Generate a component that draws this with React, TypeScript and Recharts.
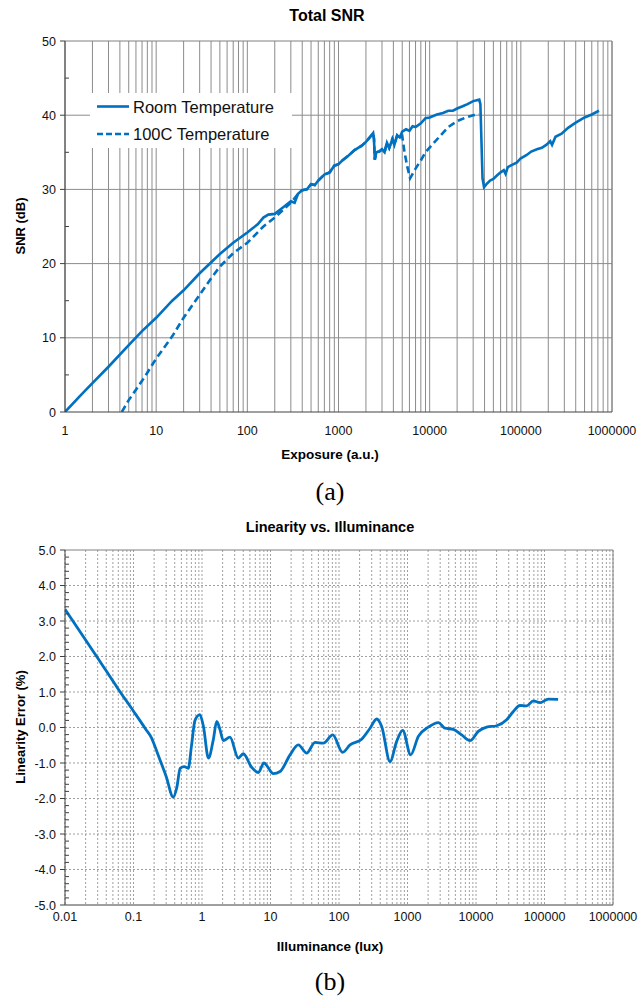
import React from "react"
import { LineChart, Line, XAxis, YAxis, CartesianGrid, ReferenceLine } from "recharts"

const BLUE = "#0070C0"
const SANS = "'Liberation Sans', Arial, sans-serif"
const SERIF = "'Liberation Serif', 'Times New Roman', serif"

// (a) Total SNR, room temperature
const roomExposure = [
  1, 1.5, 2, 3, 5, 7, 10, 15, 20, 30, 50, 70, 100, 130, 150, 170, 200, 230, 260, 300, 330, 360, 400, 450,
  500, 550, 600, 700, 800, 900, 1000, 1100, 1300, 1500, 1800, 2000, 2200, 2400, 2450, 2500, 2600, 2800,
  3000, 3200, 3400, 3600, 3900, 4100, 4400, 4700, 5000, 5500, 6000, 6500, 7000, 8000, 9000, 10000, 12000,
  14000, 16000, 18000, 20000, 23000, 26000, 30000, 35000, 36000, 38000, 39500, 42000, 46000, 50000, 55000,
  60000, 65000, 68000, 72000, 80000, 90000, 100000, 115000, 130000, 150000, 170000, 190000, 210000, 220000,
  240000, 280000, 330000, 400000, 500000, 600000, 720000,
]
const roomSnr = [
  0, 2.3, 3.9, 6.1, 9.0, 10.9, 12.7, 15.0, 16.4, 18.7, 21.3, 22.8, 24.2, 25.3, 26.2, 26.6, 26.7, 27.3, 27.8,
  28.4, 28.2, 29.4, 29.9, 30.0, 30.7, 30.6, 31.2, 32.0, 32.3, 33.2, 33.4, 33.9, 34.6, 35.3, 35.9, 36.4, 37.0,
  37.6, 36.8, 34.0, 35.0, 35.1, 35.4, 35.0, 36.3, 35.6, 36.8, 36.0, 37.3, 37.0, 37.8, 38.1, 37.9, 38.5, 38.4,
  38.9, 39.6, 39.7, 40.1, 40.3, 40.6, 40.6, 40.9, 41.2, 41.5, 41.9, 42.1, 41.5, 31.5, 30.3, 30.7, 31.2, 31.4,
  31.9, 32.3, 32.6, 32.1, 33.0, 33.3, 33.6, 34.2, 34.6, 35.1, 35.4, 35.6, 36.0, 36.5, 36.0, 37.1, 37.5, 38.3,
  39.0, 39.7, 40.1, 40.6,
]

// (a) Total SNR, 100C
const hotExposure = [
  4.2, 5, 6, 7, 8, 10, 15, 20, 30, 40, 50, 70, 100, 150, 200, 250, 300, 360, 400, 450, 500, 550, 600, 700,
  800, 900, 1000, 1100, 1300, 1500, 1800, 2000, 2200, 2400, 2450, 2500, 2600, 2800, 3000, 3200, 3400, 3600,
  3900, 4100, 4400, 4700, 5000, 5300, 5700, 6100, 7000, 8000, 9000, 11000, 13000, 16000, 20000, 25000,
  30000, 35000,
]
const hotSnr = [
  0, 1.6, 3.0, 4.2, 5.3, 7.2, 10.2, 12.7, 15.8, 18.0, 19.6, 21.4, 22.8, 25.0, 26.2, 27.3, 28.2, 29.4, 29.9,
  30.0, 30.7, 30.6, 31.2, 32.0, 32.3, 33.2, 33.4, 33.9, 34.6, 35.3, 35.9, 36.4, 37.0, 37.6, 36.8, 34.0, 35.0,
  35.1, 35.4, 35.0, 36.3, 35.6, 36.8, 36.0, 37.3, 37.0, 37.2, 35.0, 33.0, 31.5, 32.8, 33.9, 35.0, 36.2, 37.2,
  38.4, 39.2, 39.7, 40.0, 40.1,
]

const snrDecades = [1, 10, 100, 1000, 10000, 100000, 1000000]
const snrMajor = [0, 10, 20, 30, 40, 50]

// (b) Linearity vs. Illuminance
const luxValues = [
  0.01, 0.03, 0.06, 0.1, 0.15, 0.184, 0.2, 0.24, 0.3, 0.38, 0.43, 0.48, 0.55, 0.63, 0.7, 0.79, 0.93, 1.05,
  1.24, 1.46, 1.64, 1.83, 2.05, 2.56, 3.39, 4.0, 5.3, 6.64, 8.0, 11.0, 13.8, 19.3, 25.5, 33.7, 44.7, 59, 81,
  113, 145, 214, 284, 355, 420, 556, 695, 851, 1113, 1439, 2014, 2820, 3524, 4667, 6180, 8170, 10800, 14300,
  20000, 28000, 35100, 43900, 54900, 68700, 86000, 113800, 158000,
]
const linearityError = [
  3.33, 1.96, 1.08, 0.46, -0.04, -0.3, -0.47, -0.88, -1.38, -1.96, -1.68, -1.15, -1.1, -1.15, -0.54, 0.2,
  0.36, 0.03, -0.86, -0.35, 0.17, -0.06, -0.37, -0.27, -0.86, -0.74, -1.12, -1.27, -1.0, -1.3, -1.24, -0.77,
  -0.49, -0.72, -0.42, -0.44, -0.21, -0.7, -0.49, -0.33, -0.02, 0.24, 0.03, -0.96, -0.39, -0.08, -0.77, -0.25,
  0.01, 0.14, -0.02, -0.05, -0.21, -0.37, -0.11, 0.01, 0.05, 0.22, 0.45, 0.62, 0.61, 0.75, 0.7, 0.8, 0.79,
]

const luxDecades = [0.01, 0.1, 1, 10, 100, 1000, 10000, 100000, 1000000]
const errorMajor = [-5, -4, -3, -2, -1, 0, 1, 2, 3, 4, 5]

const zip = (xs: number[], ys: number[]) => xs.map((x, i) => ({ x, y: ys[i] }))

const roomData = zip(roomExposure, roomSnr)
const hotData = zip(hotExposure, hotSnr)
const linData = zip(luxValues, linearityError)

// grid positions: 1..9 inside every decade
const logGrid = (decades: number[]) => {
  const out: number[] = []
  decades.slice(0, -1).forEach((d) => {
    for (let k = 1; k < 10; k++) out.push(d * k)
  })
  out.push(decades[decades.length - 1])
  return out
}

const snrGridX = logGrid(snrDecades)
const snrGridY = Array.from({ length: 11 }, (_, i) => i * 5)
const luxGridX = logGrid(luxDecades)
const errGridY = Array.from({ length: 51 }, (_, i) => (i - 25) / 5)

const XTick = ({ x, y, payload, decades, dy }: any) => {
  if (!decades.includes(payload.value)) return <g />
  return (
    <text x={x} y={y + dy} textAnchor="middle" fontSize={12.5} fontFamily={SANS} fill="#111">
      {String(payload.value)}
    </text>
  )
}

const YTick = ({ x, y, payload, majors, format }: any) => {
  const v = payload.value
  const major = majors.some((m: number) => Math.abs(m - v) < 1e-6)
  if (!major) return <line x1={x} x2={x + 4} y1={y} y2={y} stroke="#404040" />
  return (
    <g>
      <line x1={x - 5} x2={x} y1={y} y2={y} stroke="#404040" />
      <text x={x - 9} y={y + 4.5} textAnchor="end" fontSize={12.5} fontFamily={SANS} fill="#111">
        {format(v)}
      </text>
    </g>
  )
}

export default function App() {
  return (
    <div style={{ position: "absolute", left: 0, top: 0, width: 639, height: 1000, background: "#fff" }}>
      <div style={{ position: "absolute", left: 0, top: 0 }}>
        <LineChart width={639} height={440} margin={{ top: 41, right: 27, bottom: 0, left: 0 }}>
          <CartesianGrid horizontal={false} stroke="#8c8c8c" />
          <XAxis
            type="number"
            dataKey="x"
            scale="log"
            domain={[1, 1000000]}
            allowDataOverflow
            ticks={snrGridX}
            interval={0}
            tickSize={0}
            tickMargin={0}
            tickLine={false}
            height={28}
            axisLine={{ stroke: "#404040" }}
            tick={(p: any) => <XTick {...p} decades={snrDecades} dy={23} />}
          />
          <YAxis
            type="number"
            domain={[0, 50]}
            allowDataOverflow
            ticks={snrGridY}
            interval={0}
            tickSize={0}
            tickMargin={0}
            tickLine={false}
            width={65}
            axisLine={{ stroke: "#404040" }}
            tick={(p: any) => <YTick {...p} majors={snrMajor} format={(v: number) => String(v)} />}
          />
          {snrMajor.slice(1, -1).map((v) => (
            <ReferenceLine key={v} y={v} stroke="#8c8c8c" />
          ))}
          <ReferenceLine y={50} stroke="#808080" />
          <ReferenceLine x={1000000} stroke="#808080" />
          <Line
            data={hotData}
            dataKey="y"
            type="linear"
            stroke={BLUE}
            strokeWidth={2.6}
            strokeDasharray="7 4"
            dot={false}
            activeDot={false}
            isAnimationActive={false}
          />
          <Line
            data={roomData}
            dataKey="y"
            type="linear"
            stroke={BLUE}
            strokeWidth={2.6}
            dot={false}
            activeDot={false}
            isAnimationActive={false}
          />
        </LineChart>
      </div>

      <div style={{ position: "absolute", left: 0, top: 500 }}>
        <LineChart width={639} height={430} margin={{ top: 50, right: 26, bottom: 0, left: 0 }}>
          <CartesianGrid horizontal={false} stroke="#a0a0a0" strokeDasharray="2 2" />
          <XAxis
            type="number"
            dataKey="x"
            scale="log"
            domain={[0.01, 1000000]}
            allowDataOverflow
            ticks={luxGridX}
            interval={0}
            tickSize={0}
            tickMargin={0}
            tickLine={false}
            height={25}
            axisLine={{ stroke: "#404040" }}
            tick={(p: any) => <XTick {...p} decades={luxDecades} dy={16} />}
          />
          <YAxis
            type="number"
            domain={[-5, 5]}
            allowDataOverflow
            ticks={errGridY}
            interval={0}
            tickSize={0}
            tickMargin={0}
            tickLine={false}
            width={65}
            axisLine={{ stroke: "#404040" }}
            tick={(p: any) => <YTick {...p} majors={errorMajor} format={(v: number) => v.toFixed(1)} />}
          />
          {errorMajor.slice(1, -1).map((v) => (
            <ReferenceLine key={v} y={v} stroke="#a0a0a0" strokeDasharray="2 2" />
          ))}
          <ReferenceLine y={5} stroke="#808080" />
          <ReferenceLine x={1000000} stroke="#808080" />
          <Line
            data={linData}
            dataKey="y"
            type="monotone"
            stroke={BLUE}
            strokeWidth={2.8}
            dot={false}
            activeDot={false}
            isAnimationActive={false}
          />
        </LineChart>
      </div>

      <svg
        width={639}
        height={1000}
        style={{ position: "absolute", left: 0, top: 0, pointerEvents: "none" }}
      >
        <text x={327} y={21} textAnchor="middle" fontSize={16} fontWeight="bold" fontFamily={SANS}>
          Total SNR
        </text>
        <text
          x={25}
          y={226}
          transform="rotate(-90 25 226)"
          textAnchor="middle"
          fontSize={13}
          fontWeight="bold"
          fontFamily={SANS}
        >
          SNR (dB)
        </text>
        <text x={330} y={459} textAnchor="middle" fontSize={13.5} fontWeight="bold" fontFamily={SANS}>
          Exposure (a.u.)
        </text>
        <text x={330} y={500} textAnchor="middle" fontSize={26} fontFamily={SERIF}>
          (a)
        </text>

        <rect x={90} y={93} width={202} height={55} fill="#fff" />
        <line x1={97} x2={129} y1={106.5} y2={106.5} stroke={BLUE} strokeWidth={2.6} />
        <text x={133} y={112.5} fontSize={16.5} fontFamily={SANS} fill="#111">
          Room Temperature
        </text>
        <line x1={97} x2={129} y1={134} y2={134} stroke={BLUE} strokeWidth={2.6} strokeDasharray="6 3" />
        <text x={133} y={140} fontSize={16.5} fontFamily={SANS} fill="#111">
          100C Temperature
        </text>

        <text x={330} y={532} textAnchor="middle" fontSize={14.5} fontWeight="bold" fontFamily={SANS}>
          Linearity vs. Illuminance
        </text>
        <text
          x={25}
          y={727}
          transform="rotate(-90 25 727)"
          textAnchor="middle"
          fontSize={13}
          fontWeight="bold"
          fontFamily={SANS}
        >
          Linearity Error (%)
        </text>
        <text x={330} y={951} textAnchor="middle" fontSize={13.5} fontWeight="bold" fontFamily={SANS}>
          Illuminance (lux)
        </text>
        <text x={330} y={990} textAnchor="middle" fontSize={26} fontFamily={SERIF}>
          (b)
        </text>
      </svg>
    </div>
  )
}
